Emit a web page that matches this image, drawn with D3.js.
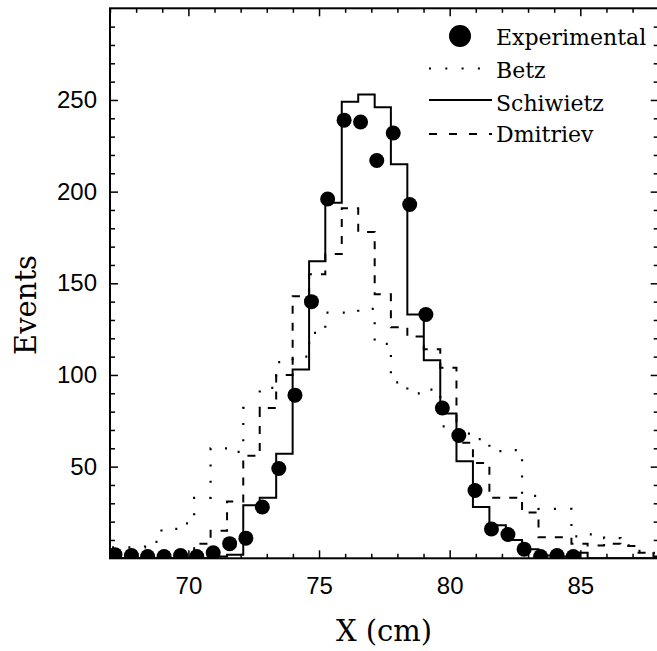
<!DOCTYPE html>
<html>
<head>
<meta charset="utf-8">
<script src="https://cdn.jsdelivr.net/npm/d3@7"></script>
<style>
  html, body { margin: 0; padding: 0; background: #fff; }
  svg { display: block; }
</style>
</head>
<body>
<svg id="chart" width="657" height="651"></svg>
<script>
// ---------------- data ----------------
const binEdges = [67.08, 67.71, 68.34, 68.97, 69.59, 70.22, 70.85, 71.48, 72.10, 72.73,
  73.36, 73.99, 74.62, 75.24, 75.87, 76.50, 77.13, 77.75, 78.38, 79.01,
  79.64, 80.26, 80.89, 81.52, 82.15, 82.77, 83.40, 84.03, 84.66, 85.28,
  85.91, 86.54, 87.17, 87.80, 88.42];

const betz = [6, 6, 9, 16, 19, 33, 60, 58, 82, 93, 107, 110, 123, 134, 134, 136, 117,
  96, 90, 92, 72, 68, 65, 58.5, 59, 34, 27, 27, 12, 13, 11, 7, 4, 3];

const schiwietz = [0, 0, 0, 0, 0, 0, 1, 2, 29, 33, 57, 103, 162, 194, 249, 253, 246,
  215, 133, 108, 79, 53, 28, 18, 10, 5, 1.5, 1, 3, 0, 0, 0, 0, 0];

const dmitriev = [0, 0, 0, 0, 0, 8, 15, 31, 56, 82, 100, 143, 155, 166, 191, 178, 144,
  126, 121, 114, 104, 63, 52, 33, 33, 25, 11.5, 11.5, 8, 7, 8, 6.7, 3, 1];

const expX = [67.19, 67.82, 68.44, 69.07, 69.70, 70.32, 70.95, 71.58, 72.20, 72.83,
  73.46, 74.08, 74.71, 75.33, 75.96, 76.59, 77.21, 77.84, 78.47, 79.09,
  79.72, 80.35, 80.97, 81.60, 82.23, 82.85, 83.48, 84.11, 84.73];
const expY = [2, 1.5, 1, 1, 1.5, 1, 3, 8, 11, 28, 49, 89, 140, 196, 239, 238, 217, 232,
  193, 133, 82, 67, 37, 16, 13, 5, 1, 1.5, 1];

const xMajorTicks = [70, 75, 80, 85];
const xMinorTicks = d3.range(67, 89, 1);
const yMajorTicks = [50, 100, 150, 200, 250];
const yMinorTicks = d3.range(0, 301, 10);

const legendLabels = ["Experimental", "Betz", "Schiwietz", "Dmitriev"];
const xTitle = "X (cm)";
const yTitle = "Events";

// ---------------- layout ----------------
const L = 110, R = 658.7, T = 8.3, B = 558.3;
const svg = d3.select("#chart");
const x = d3.scaleLinear().domain([67, 88]).range([L, R]);
const y = d3.scaleLinear().domain([0, 300]).range([B, T]);

const serif = "'DejaVu Serif', 'Liberation Serif', serif";
const sans = "'Liberation Sans', Arial, sans-serif";

svg.append("defs").append("clipPath").attr("id", "plotclip")
  .append("rect").attr("x", L).attr("y", T).attr("width", R - L).attr("height", B - T);

const plot = svg.append("g").attr("clip-path", "url(#plotclip)");

function histPoints(vals) {
  const pts = vals.map((v, i) => [binEdges[i], v]);
  pts.push([binEdges[vals.length], vals[vals.length - 1]]);
  return pts;
}
const stepLine = d3.line().x(d => x(d[0])).y(d => y(d[1])).curve(d3.curveStepAfter);

plot.append("path").attr("d", stepLine(histPoints(betz)))
  .attr("fill", "none").attr("stroke", "#000").attr("stroke-width", 2.2)
  .attr("stroke-dasharray", "2,14.3");
plot.append("path").attr("d", stepLine(histPoints(dmitriev)))
  .attr("fill", "none").attr("stroke", "#000").attr("stroke-width", 2)
  .attr("stroke-dasharray", "8,9");
plot.append("path").attr("d", stepLine(histPoints(schiwietz)))
  .attr("fill", "none").attr("stroke", "#000").attr("stroke-width", 2);

plot.selectAll("circle.exp").data(expX).join("circle")
  .attr("class", "exp")
  .attr("cx", d => x(d)).attr("cy", (d, i) => y(expY[i])).attr("r", 7.5)
  .attr("fill", "#000");

// ---------------- axes ----------------
function styleAxis(g) {
  g.select(".domain").remove();
  g.selectAll(".tick line").attr("stroke", "#000").attr("stroke-width", 1.5);
}
// bottom
svg.append("g").attr("transform", `translate(0,${B})`)
  .call(d3.axisBottom(x).tickValues(xMinorTicks.filter(t => !xMajorTicks.includes(t))).tickSizeInner(-4.5).tickSizeOuter(0).tickFormat(""))
  .call(styleAxis);
svg.append("g").attr("transform", `translate(0,${B})`)
  .call(d3.axisBottom(x).tickValues(xMajorTicks).tickSizeInner(-8).tickSizeOuter(0).tickPadding(19))
  .call(styleAxis)
  .call(g => g.selectAll("text").attr("font-family", sans).attr("font-size", 24).attr("fill", "#000"));
// top
svg.append("g").attr("transform", `translate(0,${T})`)
  .call(d3.axisTop(x).tickValues(xMinorTicks.filter(t => !xMajorTicks.includes(t))).tickSizeInner(-4.5).tickSizeOuter(0).tickFormat(""))
  .call(styleAxis);
svg.append("g").attr("transform", `translate(0,${T})`)
  .call(d3.axisTop(x).tickValues(xMajorTicks).tickSizeInner(-8).tickSizeOuter(0).tickFormat(""))
  .call(styleAxis);
// left
svg.append("g").attr("transform", `translate(${L},0)`)
  .call(d3.axisLeft(y).tickValues(yMinorTicks.filter(t => t % 50 !== 0)).tickSizeInner(-5).tickSizeOuter(0).tickFormat(""))
  .call(styleAxis);
svg.append("g").attr("transform", `translate(${L},0)`)
  .call(d3.axisLeft(y).tickValues(yMajorTicks).tickSizeInner(-8).tickSizeOuter(0).tickPadding(13))
  .call(styleAxis)
  .call(g => g.selectAll("text").attr("font-family", sans).attr("font-size", 24).attr("fill", "#000"));
// right
svg.append("g").attr("transform", `translate(${R},0)`)
  .call(d3.axisRight(y).tickValues(yMinorTicks.filter(t => t % 50 !== 0)).tickSizeInner(-5).tickSizeOuter(0).tickFormat(""))
  .call(styleAxis);
svg.append("g").attr("transform", `translate(${R},0)`)
  .call(d3.axisRight(y).tickValues(yMajorTicks).tickSizeInner(-8).tickSizeOuter(0).tickFormat(""))
  .call(styleAxis);

// frame
svg.append("rect").attr("x", L).attr("y", T).attr("width", R - L).attr("height", B - T)
  .attr("fill", "none").attr("stroke", "#000").attr("stroke-width", 2);

// titles
svg.append("text").attr("x", 384).attr("y", 641).attr("text-anchor", "middle")
  .attr("font-family", serif).attr("font-size", 29).attr("fill", "#000").text(xTitle);
svg.append("text").attr("transform", "translate(36,305) rotate(-90)").attr("text-anchor", "middle")
  .attr("font-family", serif).attr("font-size", 29).attr("fill", "#000").text(yTitle);

// legend
const lg = svg.append("g");
const lgX0 = 429, lgX1 = 492, lgText = 496;
const rowY = [36, 68.5, 100, 134];
const baseY = [45, 78, 110.5, 142];
lg.append("circle").attr("cx", 460).attr("cy", rowY[0]).attr("r", 11).attr("fill", "#000");
lg.append("line").attr("x1", lgX0).attr("x2", lgX1 - 8).attr("y1", rowY[1]).attr("y2", rowY[1])
  .attr("stroke", "#000").attr("stroke-width", 2.2).attr("stroke-dasharray", "2,14.3");
lg.append("line").attr("x1", lgX0).attr("x2", lgX1).attr("y1", rowY[2]).attr("y2", rowY[2])
  .attr("stroke", "#000").attr("stroke-width", 2);
lg.append("line").attr("x1", lgX0).attr("x2", lgX1).attr("y1", rowY[3]).attr("y2", rowY[3])
  .attr("stroke", "#000").attr("stroke-width", 2).attr("stroke-dasharray", "8,12");
legendLabels.forEach((t, i) => {
  lg.append("text").attr("x", lgText).attr("y", baseY[i])
    .attr("font-family", serif).attr("font-size", 22).attr("fill", "#000").text(t);
});
</script>
</body>
</html>
